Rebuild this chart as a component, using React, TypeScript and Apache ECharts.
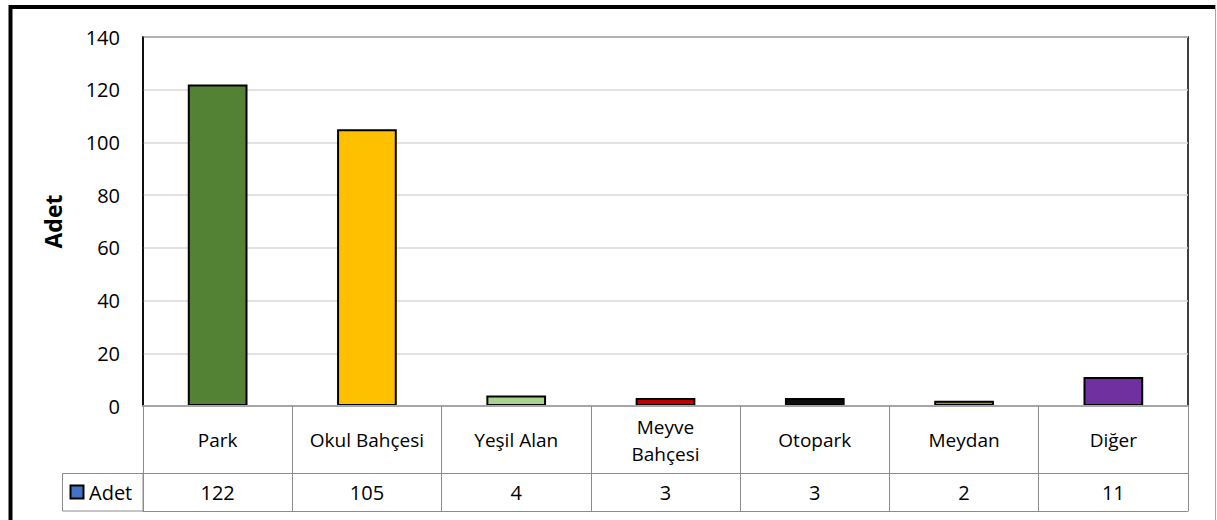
import React, { useEffect, useRef } from "react";
import * as echarts from "echarts";

const categories = ["Park", "Okul Bahçesi", "Yeşil Alan", "Meyve\nBahçesi", "Otopark", "Meydan", "Diğer"];
const values = [122, 105, 4, 3, 3, 2, 11];
const barColors = ["#548235", "#FFC000", "#A9D18E", "#C00000", "#0D0D0D", "#BF9000", "#7030A0"];
const seriesName = "Adet";
const yTicks = { min: 0, max: 140, interval: 20 };

const FONT = "'Open Sans', sans-serif";
const GRID = "#8c8c8c";

export default function App() {
  const ref = useRef<HTMLDivElement>(null);
  useEffect(() => {
    if (!ref.current) return;
    const chart = echarts.init(ref.current, null, { renderer: "svg" });
    const tableLine = { show: true, lineStyle: { color: GRID, width: 1 } };
    chart.setOption({
      animation: false,
      textStyle: { fontFamily: FONT },
      grid: {
        left: 143,
        right: 29,
        top: 37,
        bottom: 114,
        show: true,
        borderColor: "#000",
        borderWidth: 1.5,
        containLabel: false,
      },
      xAxis: [
        {
          type: "category",
          data: categories,
          axisLine: { show: true, lineStyle: { color: "#a6a6a6", width: 2 } },
          axisTick: { show: true, length: 105, lineStyle: { color: GRID, width: 1 } },
          axisLabel: {
            interval: 0,
            fontSize: 19,
            color: "#000",
            margin: 34,
            verticalAlign: "middle",
            lineHeight: 27,
            fontFamily: FONT,
          },
          z: 5,
        },
        {
          type: "category",
          data: values.map(String),
          position: "bottom",
          offset: 67,
          axisLine: tableLine,
          axisTick: { show: false },
          axisLabel: {
            interval: 0,
            fontSize: 20,
            color: "#000",
            margin: 19,
            verticalAlign: "middle",
            fontFamily: FONT,
          },
        },
        {
          type: "category",
          data: categories,
          position: "bottom",
          offset: 105,
          axisLine: tableLine,
          axisTick: { show: false },
          axisLabel: { show: false },
        },
      ],
      yAxis: {
        type: "value",
        min: yTicks.min,
        max: yTicks.max,
        interval: yTicks.interval,
        name: seriesName,
        nameLocation: "middle",
        nameGap: 79,
        nameRotate: 90,
        nameTextStyle: { fontSize: 23, fontWeight: "bold", color: "#000", fontFamily: FONT },
        axisLine: { show: true, lineStyle: { color: "#000", width: 1.5 } },
        axisTick: { show: false },
        splitLine: { show: true, lineStyle: { color: "#d9d9d9", width: 1.5 } },
        axisLabel: { fontSize: 20, color: "#000", margin: 23, fontFamily: FONT },
      },
      series: [
        {
          type: "bar",
          name: seriesName,
          xAxisIndex: 0,
          barWidth: "40%",
          data: values.map((v, i) => ({
            value: v,
            itemStyle: { color: barColors[i] },
          })),
          itemStyle: { borderColor: "#000", borderWidth: 2 },
          z: 3,
        },
      ],
      graphic: [
        { type: "line", shape: { x1: 10.5, y1: 7, x2: 1215, y2: 7 }, style: { stroke: "#000", lineWidth: 4 } },
        { type: "line", shape: { x1: 10.5, y1: 5, x2: 10.5, y2: 520 }, style: { stroke: "#000", lineWidth: 4 } },
        { type: "line", shape: { x1: 1215.5, y1: 5, x2: 1215.5, y2: 520 }, style: { stroke: "#a6a6a6", lineWidth: 1 } },
        { type: "rect", shape: { x: 62.5, y: 473.5, width: 80.5, height: 37.5 }, style: { fill: "none", stroke: GRID, lineWidth: 1 } },
        { type: "rect", shape: { x: 70.5, y: 485.5, width: 13, height: 13 }, style: { fill: "#4472C4", stroke: "#000", lineWidth: 2 } },
        {
          type: "text",
          x: 89,
          y: 492,
          style: { text: seriesName, fontSize: 20, fill: "#000", fontFamily: FONT, verticalAlign: "middle" },
        },
      ],
    });
    return () => chart.dispose();
  }, []);
  return (
    <div
      ref={ref}
      style={{ position: "fixed", left: 0, top: 0, width: 1217, height: 520, background: "#fff" }}
    />
  );
}
